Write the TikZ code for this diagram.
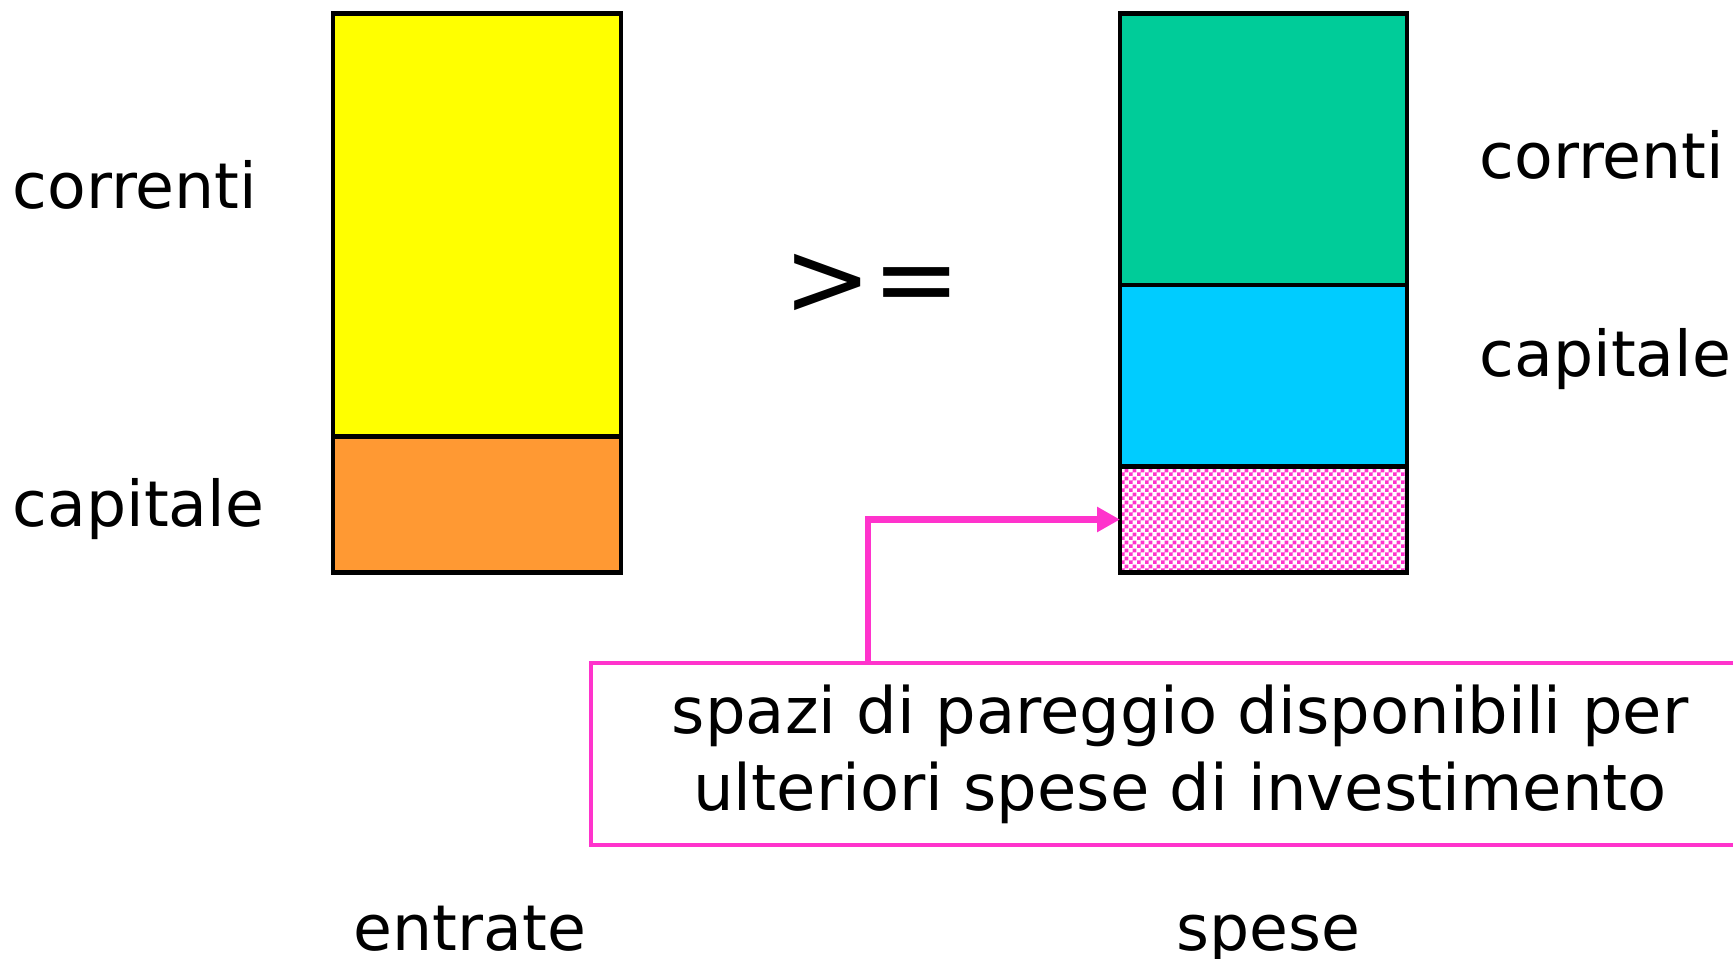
\documentclass[tikz,border=0pt]{standalone}
\usepackage{fontspec}
\setmainfont{DejaVu Sans}
\usetikzlibrary{positioning, arrows.meta, patterns}

\definecolor{giallo}{HTML}{FFFF00}
\definecolor{arancio}{HTML}{FF9933}
\definecolor{verde}{HTML}{00CC99}
\definecolor{azzurro}{HTML}{00CCFF}
\definecolor{rosa}{HTML}{FF33CC}

% fine checkerboard for the free space
\pgfdeclarepatternformonly{finechecks}{\pgfqpoint{0pt}{0pt}}{\pgfqpoint{2.2pt}{2.2pt}}{\pgfqpoint{2.2pt}{2.2pt}}{%
    \pgfpathrectangle{\pgfqpoint{0pt}{0pt}}{\pgfqpoint{1.1pt}{1.1pt}}%
    \pgfpathrectangle{\pgfqpoint{1.1pt}{1.1pt}}{\pgfqpoint{1.1pt}{1.1pt}}%
    \pgfusepath{fill}}

\tikzstyle{block} = [rectangle, draw=black, line width=1.4pt, inner sep=0pt, outer sep=0pt]
\tikzstyle{voce} = [font=\fontsize{18}{20}\selectfont, inner sep=0pt]
\tikzstyle{avviso} = [rectangle, draw=rosa, line width=1.2pt, align=center, font=\fontsize{18.2}{22}\selectfont]
\tikzstyle{pointer} = [rosa, line width=1.8pt, -{Triangle[length=0.23cm, width=0.24cm]}]

\begin{document}
\begin{tikzpicture}

    \useasboundingbox (0, 0) rectangle (17.33, -9.58);

    % entrate
    \node (entcor) [block, fill=giallo, minimum width=2.88cm, minimum height=4.23cm, anchor=north west] at (3.33, -0.135) {};
    \node (entcap) [block, fill=arancio, minimum width=2.88cm, minimum height=1.36cm, below=0pt of entcor] {};

    % spese
    \node (spcor) [block, fill=verde, minimum width=2.87cm, minimum height=2.715cm, anchor=north west] at (11.20, -0.135) {};
    \node (spcap) [block, fill=azzurro, minimum width=2.87cm, minimum height=1.815cm, below=0pt of spcor] {};
    \node (spfree) [block, pattern=finechecks, pattern color=rosa, minimum width=2.87cm, minimum height=1.06cm, below=0pt of spcap] {};

    \node (ge) [font=\fontsize{30}{36}\selectfont, anchor=base] at (8.72, -3.15) {>=};

    \node (lcor) [voce, anchor=base west] at (0.12, -2.08) {correnti};
    \node (lcap) [voce, anchor=base west] at (0.12, -5.26) {capitale};
    \node (rcor) [voce, anchor=base west] at (14.79, -1.78) {correnti};
    \node (rcap) [voce, anchor=base west] at (14.79, -3.76) {capitale};

    \node (entrate) [voce, anchor=base] at (4.70, -9.50) {entrate};
    \node (spese) [voce, anchor=base] at (12.68, -9.50) {spese};

    \node (note) [avviso, minimum width=11.78cm, minimum height=1.82cm] at (11.80, -7.54) {spazi di pareggio disponibili per\\ulteriori spese di investimento};

    \draw [pointer] (note.north west) ++(2.79, 0) |- (spfree.west);

\end{tikzpicture}
\end{document}
